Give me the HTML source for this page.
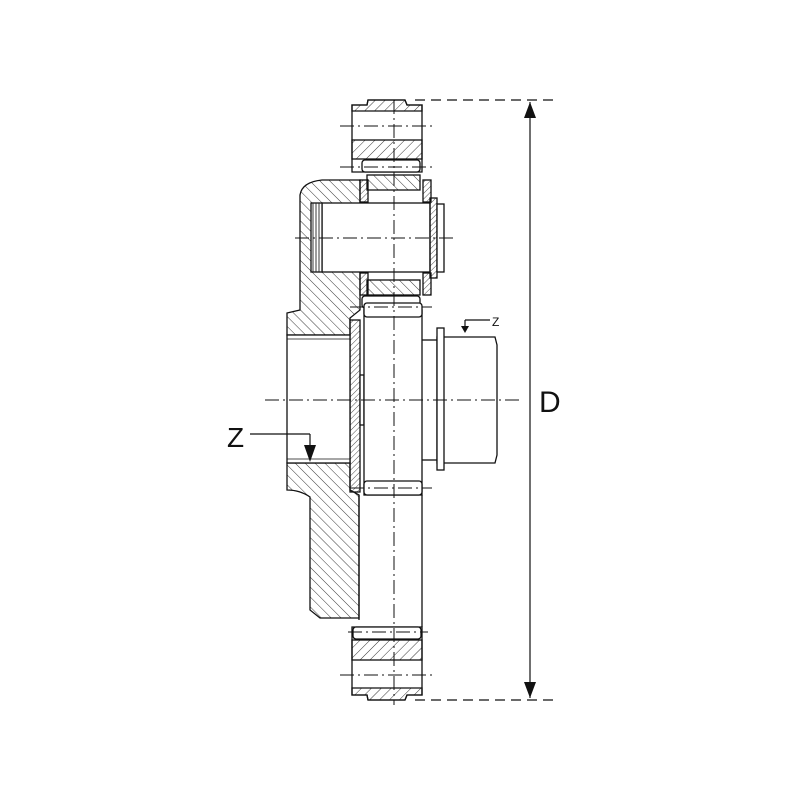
<!DOCTYPE html>
<html><head><style>body{margin:0;background:#fff}svg{display:block}text{font-family:"Liberation Sans",sans-serif}</style></head>
<body>
<svg width="800" height="800" viewBox="0 0 800 800" xmlns="http://www.w3.org/2000/svg">
<defs>
<pattern id="h" width="7" height="7" patternUnits="userSpaceOnUse" patternTransform="rotate(45)">
<line x1="0" y1="0" x2="0" y2="7" stroke="#222" stroke-width="0.9"/></pattern>
<pattern id="hb" width="7" height="7" patternUnits="userSpaceOnUse" patternTransform="rotate(-45)">
<line x1="0" y1="0" x2="0" y2="7" stroke="#222" stroke-width="0.9"/></pattern>
<pattern id="h2" width="4" height="4" patternUnits="userSpaceOnUse" patternTransform="rotate(45)">
<line x1="0" y1="0" x2="0" y2="4" stroke="#222" stroke-width="0.8"/></pattern>
<pattern id="k" width="3" height="3" patternUnits="userSpaceOnUse">
<line x1="1" y1="0" x2="1" y2="3" stroke="#222" stroke-width="0.9"/></pattern>
</defs>
<g stroke="#111" stroke-width="1.3" fill="none">
<path d="M352,105 L367,105 L368,100 L405,100 L407,105 L422,105 L422,172 L352,172 Z" fill="#fff"/>
<path d="M352,105 L367,105 L368,100 L405,100 L407,105 L422,105 L422,111 L352,111 Z" fill="url(#h)"/>
<rect x="352" y="140" width="70" height="19" fill="url(#h)"/>
<rect x="362" y="160" width="58" height="12" rx="3" fill="#fff"/>
<path d="M322,180 L360,180 L360,310 L350,318 L350,335 L287,335 L287,313 L300,310 L300,195 Q302,182 322,180 Z" fill="url(#hb)"/>
<path d="M287,463 L350,463 L350,490 L359,495 L359,618 L320,618 L310,610 L310,497 Q300,490 287,490 Z" fill="url(#hb)"/>
<rect x="367" y="175" width="53" height="15" fill="url(#hb)"/>
<rect x="367" y="280" width="53" height="15" fill="url(#hb)"/>
<rect x="360" y="180" width="8" height="22" fill="url(#h2)"/>
<rect x="360" y="273" width="8" height="22" fill="url(#h2)"/>
<rect x="423" y="180" width="8" height="22" fill="url(#h2)"/>
<rect x="423" y="273" width="8" height="22" fill="url(#h2)"/>
<rect x="362" y="296" width="58" height="12" rx="3" fill="#fff"/>
<rect x="322" y="203" width="108" height="69" fill="#fff"/>
<rect x="311" y="203" width="11" height="69" fill="#fff"/>
<rect x="311" y="203" width="11" height="69" fill="url(#k)" stroke="none"/>
<rect x="430" y="198" width="7" height="80" fill="url(#h2)"/>
<rect x="437" y="204" width="7" height="68" fill="#fff"/>
<rect x="350" y="320" width="10" height="172" fill="url(#h2)"/>
<rect x="360" y="375" width="4" height="50" fill="#fff"/>
<rect x="364" y="310" width="58" height="185" fill="#fff"/>
<rect x="364" y="303" width="58" height="14" rx="3" fill="#fff"/>
<rect x="364" y="481" width="58" height="14" rx="3" fill="#fff"/>
<line x1="359" y1="495" x2="359" y2="620"/>
<line x1="422" y1="495" x2="422" y2="627"/>
<rect x="287" y="335" width="63" height="128" fill="#fff"/>
<line x1="287" y1="339" x2="350" y2="339" stroke-width="0.8"/>
<line x1="287" y1="459" x2="350" y2="459" stroke-width="0.8"/>
<path d="M437,337 L495,337 L497,345 L497,455 L495,463 L437,463 Z" fill="#fff"/>
<rect x="437" y="328" width="7" height="142" fill="#fff"/>
<line x1="422" y1="340" x2="437" y2="340"/>
<line x1="422" y1="460" x2="437" y2="460"/>
<path d="M352,627 L422,627 L422,695 L407,695 L405,700 L368,700 L367,695 L352,695 Z" fill="#fff"/>
<rect x="352" y="640" width="70" height="20" fill="url(#h)"/>
<path d="M352,688 L422,688 L422,695 L407,695 L405,700 L368,700 L367,695 L352,695 Z" fill="url(#h)"/>
<rect x="353" y="627" width="68" height="12" rx="3" fill="#fff"/>
</g>
<g stroke="#111" stroke-width="1" stroke-dasharray="14,4,2,4" fill="none">
<line x1="394" y1="100" x2="394" y2="705"/>
<line x1="265" y1="400" x2="520" y2="400"/>
<line x1="295" y1="238" x2="455" y2="238"/>
<line x1="340" y1="126" x2="432" y2="126"/>
<line x1="340" y1="167" x2="432" y2="167"/>
<line x1="350" y1="307" x2="432" y2="307"/>
<line x1="350" y1="488" x2="432" y2="488"/>
<line x1="348" y1="632" x2="428" y2="632"/>
<line x1="340" y1="675" x2="432" y2="675"/>
</g>
<g stroke="#111" stroke-width="1.2" fill="none">
<line x1="415" y1="100" x2="555" y2="100" stroke-dasharray="10,6"/>
<line x1="415" y1="700" x2="555" y2="700" stroke-dasharray="10,6"/>
<line x1="530" y1="102" x2="530" y2="698"/>
<line x1="250" y1="434" x2="310" y2="434"/>
<line x1="310" y1="434" x2="310" y2="450"/>
<line x1="490" y1="320" x2="465" y2="320"/>
<line x1="465" y1="320" x2="465" y2="327"/>
</g>
<polygon points="530,102 524,118 536,118" fill="#111"/>
<polygon points="530,698 524,682 536,682" fill="#111"/>
<polygon points="304,445 316,445 310,462" fill="#111"/>
<polygon points="461,326 469,326 465,333" fill="#111"/>
<text x="539" y="412" font-size="30" fill="#111">D</text>
<text x="227" y="447" font-size="28" fill="#111">Z</text>
<text x="492" y="326" font-size="12" fill="#111">Z</text>
</svg>
</body></html>
